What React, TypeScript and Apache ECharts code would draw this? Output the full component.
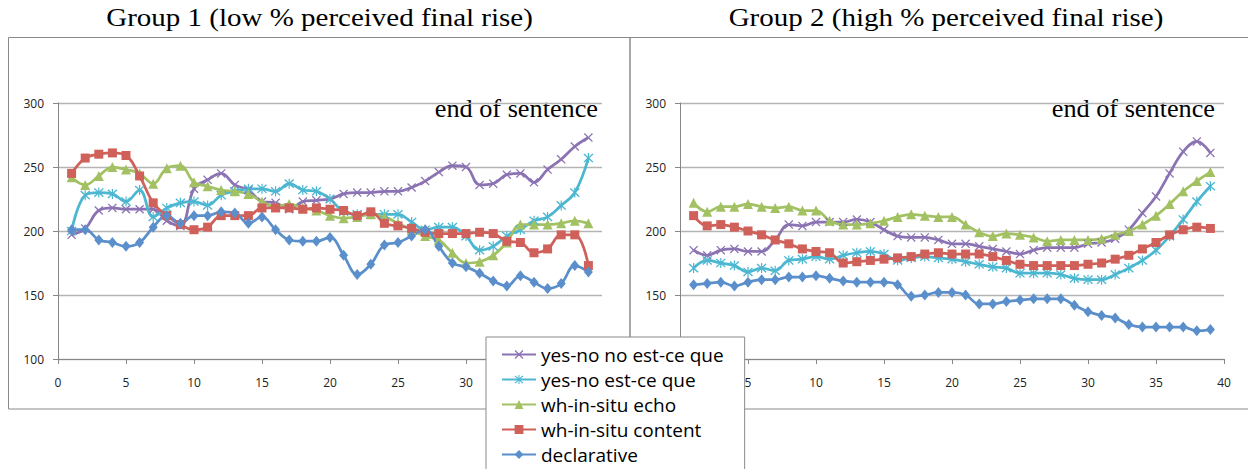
import React, { useEffect, useRef } from "react";
import * as echarts from "echarts";

const positions = [1, 2, 3, 4, 5, 6, 7, 8, 9, 10, 11, 12, 13, 14, 15, 16, 17, 18, 19, 20, 21, 22, 23, 24, 25, 26, 27, 28, 29, 30, 31, 32, 33, 34, 35, 36, 37, 38, 39];

const seriesNames = ["yes-no no est-ce que", "yes-no est-ce que", "wh-in-situ echo", "wh-in-situ content", "declarative"];

// Group 1 (low % perceived final rise)
const g1YesNoNoEstCeQue = [197, 202, 216, 218, 217, 217, 217, 208, 204, 233, 240, 245, 236, 232, 223, 222, 217, 223, 224, 225, 229, 230, 230, 231, 231, 234, 239, 246, 251, 250, 236, 237, 244, 245, 238, 248, 256, 266, 273];
const g1YesNoEstCeQue = [200, 228, 230, 229, 223, 232, 211, 218, 222, 223, 220, 228, 231, 233, 233, 231, 237, 232, 231, 225, 215, 213, 213, 213, 213, 207, 201, 203, 203, 196, 185, 188, 196, 201, 208, 211, 220, 230, 257];
const g1WhEcho = [242, 236, 243, 250, 248, 245, 237, 249, 251, 238, 235, 232, 231, 229, 223, 219, 221, 218, 216, 212, 210, 211, 213, 211, 206, 201, 196, 193, 183, 175, 176, 181, 191, 205, 205, 205, 206, 208, 206];
const g1WhContent = [245, 257, 260, 261, 259, 243, 222, 212, 205, 201, 203, 212, 212, 212, 218, 218, 218, 217, 218, 217, 216, 212, 215, 206, 204, 202, 199, 198, 198, 198, 199, 198, 192, 191, 183, 186, 197, 197, 173];
const g1Declarative = [201, 201, 193, 191, 188, 191, 203, 212, 206, 212, 212, 215, 214, 206, 211, 201, 193, 192, 192, 195, 181, 166, 174, 189, 191, 196, 201, 188, 175, 172, 167, 161, 157, 165, 160, 155, 159, 173, 168];

// Group 2 (high % perceived final rise)
const g2YesNoNoEstCeQue = [185, 181, 185, 186, 184, 184, 193, 205, 204, 207, 207, 207, 209, 207, 201, 196, 195, 195, 193, 190, 190, 188, 186, 184, 182, 185, 187, 187, 187, 190, 191, 194, 201, 214, 227, 245, 262, 270, 261];
const g2YesNoEstCeQue = [171, 177, 175, 173, 168, 171, 169, 177, 178, 180, 178, 181, 183, 184, 182, 177, 179, 180, 179, 178, 176, 174, 172, 171, 167, 167, 167, 166, 163, 162, 162, 166, 171, 177, 185, 196, 209, 223, 235];
const g2WhEcho = [222, 215, 219, 219, 221, 219, 218, 219, 216, 216, 208, 205, 205, 206, 208, 211, 213, 212, 211, 211, 205, 199, 196, 198, 197, 195, 192, 193, 193, 193, 194, 197, 200, 205, 212, 221, 231, 239, 246];
const g2WhContent = [212, 204, 205, 203, 200, 197, 193, 190, 186, 184, 183, 175, 176, 177, 178, 179, 180, 182, 183, 182, 182, 182, 180, 177, 174, 173, 173, 173, 173, 174, 175, 178, 181, 186, 191, 197, 201, 203, 202];
const g2Declarative = [158, 159, 160, 157, 160, 162, 162, 164, 164, 165, 163, 161, 160, 160, 160, 158, 149, 150, 152, 152, 150, 143, 143, 145, 146, 147, 147, 147, 142, 137, 134, 132, 127, 125, 125, 125, 125, 122, 123];

const panelTitles = ["Group 1 (low % perceived final rise)", "Group 2 (high % perceived final rise)"];
const annotation = "end of sentence";
const xTicks = { min: 0, max: 40, interval: 5 };
const yTicks = { min: 100, max: 300, interval: 50 };
// tick labels hidden behind the legend box in each panel
const hiddenXLabels = [[35, 40], [0]];
const hiddenYLabels = [[], [100]];

const colors = ["#8B73B3", "#4CB7D1", "#A2C162", "#D0605A", "#5A8FCB"];
const xMark = "path://M1,0 L5,4 L9,0 L10,1 L6,5 L10,9 L9,10 L5,6 L1,10 L0,9 L4,5 L0,1 Z";
const starMark = "path://M1,0 L5,4 L9,0 L10,1 L6,5 L10,9 L9,10 L5,6 L1,10 L0,9 L4,5 L0,1 Z M4.4,-0.5 L5.6,-0.5 L5.6,10.5 L4.4,10.5 Z";
const symbols = [xMark, starMark, "triangle", "rect", "diamond"];
const symbolSizes: any[] = [9, 10, 10, 9, [9, 11]];

const groups = [
  [g1YesNoNoEstCeQue, g1YesNoEstCeQue, g1WhEcho, g1WhContent, g1Declarative],
  [g2YesNoNoEstCeQue, g2YesNoEstCeQue, g2WhEcho, g2WhContent, g2Declarative],
];

const gridLefts = [58, 680];
const axisGray = "#878787";

export default function App() {
  const ref = useRef<HTMLDivElement>(null);
  useEffect(() => {
    if (!ref.current) return;
    const chart = echarts.init(ref.current, undefined, { renderer: "svg" });
    const series: any[] = [];
    groups.forEach((arrs, g) => {
      arrs.forEach((arr, k) => {
        series.push({
          type: "line",
          name: seriesNames[k],
          xAxisIndex: g,
          yAxisIndex: g,
          data: positions.map((x, i) => [x, arr[i]]),
          smooth: 0.4,
          symbol: symbols[k],
          symbolSize: symbolSizes[k],
          showAllSymbol: true,
          lineStyle: { width: 2.75, color: colors[k] },
          itemStyle: { color: colors[k] },
          emphasis: { disabled: true },
        });
      });
    });
    const option: any = {
      animation: false,
      grid: gridLefts.map((l) => ({ left: l, width: 544, top: 103, height: 256 })),
      xAxis: gridLefts.map((_, g) => ({
        type: "value",
        gridIndex: g,
        min: xTicks.min,
        max: xTicks.max,
        interval: xTicks.interval,
        axisLine: { show: true, onZero: false, lineStyle: { color: axisGray, width: 1 } },
        axisTick: { show: true, length: 5, lineStyle: { color: axisGray } },
        axisLabel: {
          margin: 17,
          fontSize: 12,
          color: "#222",
          fontFamily: "Open Sans",
          formatter: (v: number) => (hiddenXLabels[g].includes(v) ? "" : String(v)),
        },
        splitLine: { show: false },
      })),
      yAxis: gridLefts.map((_, g) => ({
        type: "value",
        gridIndex: g,
        min: yTicks.min,
        max: yTicks.max,
        interval: yTicks.interval,
        axisLine: { show: true, onZero: false, lineStyle: { color: axisGray, width: 1 } },
        axisTick: { show: true, length: 5, lineStyle: { color: axisGray } },
        axisLabel: {
          margin: 14,
          fontSize: 12,
          color: "#222",
          fontFamily: "Open Sans",
          formatter: (v: number) => ((hiddenYLabels[g] as number[]).includes(v) ? "" : String(v)),
        },
        splitLine: { show: true, lineStyle: { color: "#b4b4b4", width: 1.3 } },
      })),
      legend: {
        data: seriesNames,
        orient: "vertical",
        left: 486,
        top: 337,
        height: 300,
        padding: [8, 21, 8, 15],
        itemGap: 6,
        itemWidth: 34,
        itemHeight: 11,
        backgroundColor: "#ffffff",
        borderColor: "#8a8a8a",
        borderWidth: 1,
        selectedMode: false,
        textStyle: { fontSize: 19, fontFamily: "Open Sans", color: "#000" },
      },
      graphic: [
        { type: "rect", silent: true, shape: { x: 8.5, y: 37.5, width: 621.5, height: 371.5 }, style: { fill: "none", stroke: "#8a8a8a", lineWidth: 1 } },
        { type: "rect", silent: true, shape: { x: 630, y: 37.5, width: 700, height: 371.5 }, style: { fill: "none", stroke: "#8a8a8a", lineWidth: 1 } },
        { type: "text", silent: true, x: 319.5, y: 18, scaleX: 1.16, style: { text: panelTitles[0], fontSize: 25, fontFamily: "Liberation Serif", fill: "#000", align: "center", verticalAlign: "middle" } },
        { type: "text", silent: true, x: 946, y: 18, scaleX: 1.16, style: { text: panelTitles[1], fontSize: 25, fontFamily: "Liberation Serif", fill: "#000", align: "center", verticalAlign: "middle" } },
        { type: "text", silent: true, x: 598, y: 109, scaleX: 1.05, style: { text: annotation, fontSize: 25, fontFamily: "Liberation Serif", fill: "#000", align: "right", verticalAlign: "middle" } },
        { type: "text", silent: true, x: 1215, y: 109, scaleX: 1.05, style: { text: annotation, fontSize: 25, fontFamily: "Liberation Serif", fill: "#000", align: "right", verticalAlign: "middle" } },
      ],
      series,
    };
    chart.setOption(option);
    return () => chart.dispose();
  }, []);
  return <div ref={ref} style={{ position: "absolute", left: 0, top: 0, width: 1248, height: 469, background: "#fff" }} />;
}
